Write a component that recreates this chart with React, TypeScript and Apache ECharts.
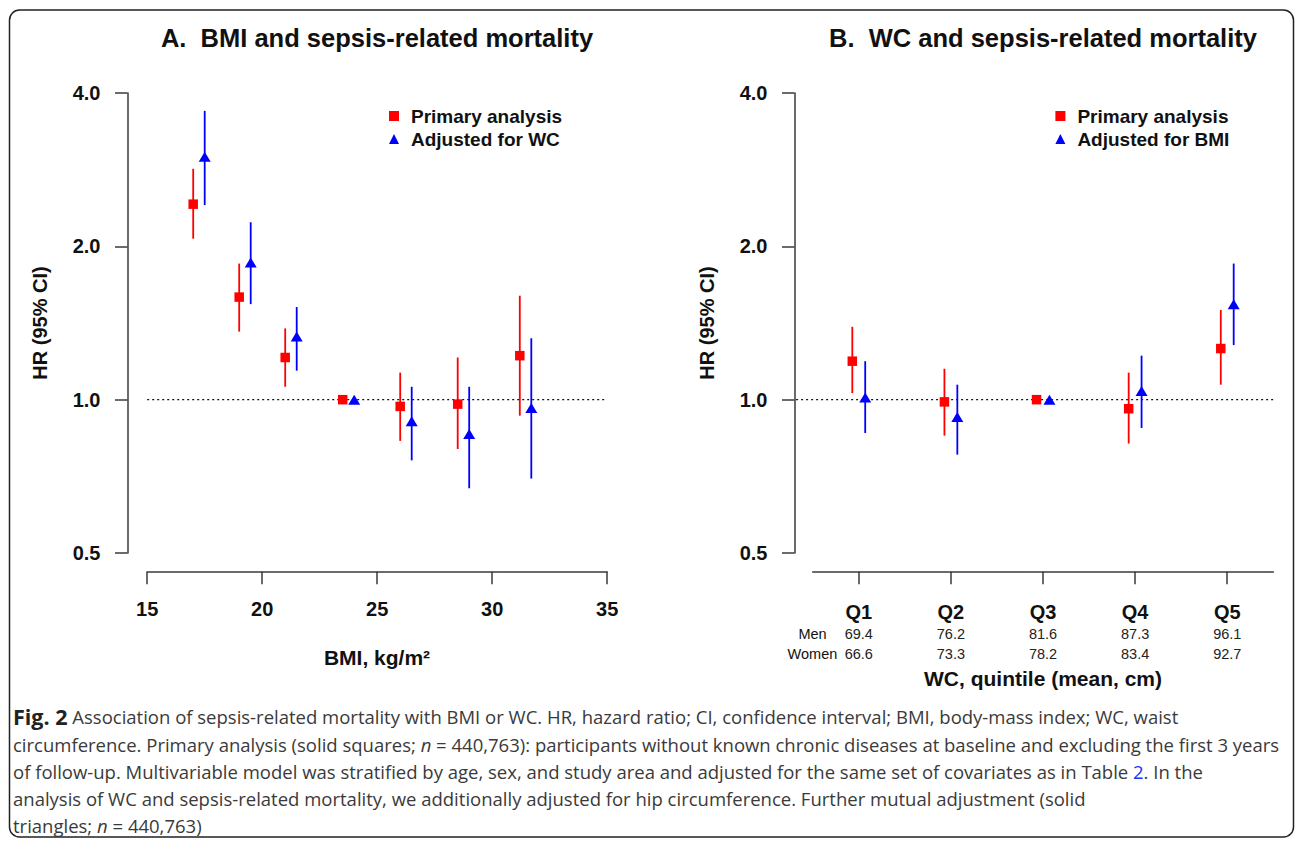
import React, { useEffect, useRef } from 'react';
import * as echarts from 'echarts';

// ---------- Data ----------
const bmiPrimaryX = [17, 19, 21, 23.5, 26, 28.5, 31.2];
const bmiPrimaryHR = [2.42, 1.59, 1.21, 1.0, 0.97, 0.98, 1.22];
const bmiPrimaryLo = [2.07, 1.36, 1.06, null, 0.83, 0.8, 0.93];
const bmiPrimaryHi = [2.84, 1.85, 1.38, null, 1.13, 1.21, 1.6];

const bmiAdjX = [17.5, 19.5, 21.5, 24, 26.5, 29, 31.7];
const bmiAdjHR = [3.0, 1.86, 1.33, 1.0, 0.907, 0.856, 0.963];
const bmiAdjLo = [2.41, 1.54, 1.14, null, 0.76, 0.67, 0.7];
const bmiAdjHi = [3.69, 2.23, 1.52, null, 1.06, 1.06, 1.32];

const quintiles = ['Q1', 'Q2', 'Q3', 'Q4', 'Q5'];
const quintilePos = [1, 2, 3, 4, 5];
const menMeans = ['69.4', '76.2', '81.6', '87.3', '96.1'];
const womenMeans = ['66.6', '73.3', '78.2', '83.4', '92.7'];

const wcPrimaryX = [0.93, 1.93, 2.93, 3.93, 4.93];
const wcPrimaryHR = [1.19, 0.99, 1.0, 0.96, 1.26];
const wcPrimaryLo = [1.03, 0.85, null, 0.82, 1.07];
const wcPrimaryHi = [1.39, 1.15, null, 1.13, 1.5];

const wcAdjX = [1.07, 2.07, 3.07, 4.07, 5.07];
const wcAdjHR = [1.01, 0.925, 1.0, 1.04, 1.54];
const wcAdjLo = [0.86, 0.78, null, 0.88, 1.28];
const wcAdjHi = [1.19, 1.07, null, 1.22, 1.85];

const bmiRange = [15, 35];
const wcRange = [0.5, 5.5];
const hrRange = [0.5, 4];
const refHR = 1;
const bmiRefLine = [15, 35];
const wcRefLine = [0.32, 5.5];

// ---------- Styles ----------
const F = '"Liberation Sans", Arial, Helvetica, sans-serif';
const CF = '"Open Sans", "Noto Sans", sans-serif';
const RED = '#ff0000';
const BLUE = '#0000ff';
const AXIS = '#3a3a3a';
const CAP = 18.5;

function ciData(xs: number[], lo: (number | null)[], hi: (number | null)[]) {
  const out: number[][] = [];
  xs.forEach((x, i) => {
    if (lo[i] != null && hi[i] != null) out.push([x, lo[i] as number, hi[i] as number]);
  });
  return out;
}

function ciSeries(name: string, idx: number, xs: number[], lo: any[], hi: any[], color: string) {
  return {
    type: 'custom',
    name,
    xAxisIndex: idx,
    yAxisIndex: idx,
    silent: true,
    z: 2,
    data: ciData(xs, lo, hi),
    renderItem: (params: any, api: any) => {
      const p1 = api.coord([api.value(0), api.value(1)]);
      const p2 = api.coord([api.value(0), api.value(2)]);
      return {
        type: 'line',
        shape: { x1: p1[0], y1: p1[1], x2: p2[0], y2: p2[1] },
        style: { stroke: color, lineWidth: 1.8 },
      };
    },
  };
}

function refLineSeries(name: string, idx: number, range: number[]) {
  return {
    type: 'custom',
    name,
    xAxisIndex: idx,
    yAxisIndex: idx,
    silent: true,
    clip: false,
    z: 1,
    data: [[range[0], range[1], refHR]],
    renderItem: (params: any, api: any) => {
      const a = api.coord([api.value(0), api.value(2)]);
      const b = api.coord([api.value(1), api.value(2)]);
      return {
        type: 'line',
        shape: { x1: a[0], y1: a[1], x2: b[0], y2: b[1] },
        style: { stroke: '#111', lineWidth: 1.3, lineDash: [2, 3] },
      };
    },
  };
}

function pointSeries(name: string, idx: number, xs: number[], hr: number[], color: string, symbol: string, size: any) {
  return {
    type: 'scatter',
    name,
    xAxisIndex: idx,
    yAxisIndex: idx,
    symbol,
    symbolSize: size,
    z: 3,
    silent: true,
    itemStyle: { color, opacity: 1 },
    data: xs.map((x, i) => [x, hr[i]]),
  };
}

const yAxisBase = (idx: number, offset: number) => ({
  gridIndex: idx,
  type: 'log',
  logBase: 2,
  min: hrRange[0],
  max: hrRange[1],
  offset,
  axisLine: { show: true, lineStyle: { color: AXIS, width: 1.5 } },
  axisTick: { show: true, length: 12.5, lineStyle: { color: AXIS, width: 1.5 } },
  axisLabel: {
    margin: 27,
    fontSize: 20,
    fontWeight: 'bold',
    fontFamily: F,
    color: '#111',
    formatter: (v: number) => v.toFixed(1),
  },
  splitLine: { show: false },
});

const legendBase = (left: number, items: any[]) => ({
  orient: 'vertical',
  left,
  top: 106,
  padding: 0,
  itemWidth: 10,
  itemHeight: 10,
  itemGap: 3,
  selectedMode: false,
  textStyle: {
    fontSize: 19,
    fontWeight: 'bold',
    fontFamily: F,
    color: '#111',
    lineHeight: 20,
    padding: [0, 0, 0, 7],
  },
  data: items,
});

function captionLine(y: number, text: string) {
  return {
    type: 'text',
    x: 13,
    y,
    silent: true,
    style: {
      text,
      fontSize: CAP,
      fontFamily: CF,
      fill: '#3a3a3a',
      verticalAlign: 'middle',
      rich: {
        b: { fontSize: 21.5, fontFamily: CF, fontWeight: 'bold', fill: '#222' },
        i: { fontSize: CAP, fontFamily: CF, fontStyle: 'italic', fill: '#3a3a3a' },
        l: { fontSize: CAP, fontFamily: CF, fill: '#2233ff' },
      },
    },
  };
}

function txt(x: number, y: number, text: string, size: number, weight: string, align: string, extra: any = {}) {
  return {
    type: 'text',
    x,
    y,
    silent: true,
    ...extra,
    style: {
      text,
      fontSize: size,
      fontWeight: weight,
      fontFamily: F,
      fill: '#111',
      align,
      verticalAlign: 'middle',
    },
  };
}

export default function App() {
  const ref = useRef<HTMLDivElement>(null);
  useEffect(() => {
    if (!ref.current) return;
    const chart = echarts.init(ref.current, undefined, { renderer: 'svg' });
    const option: any = {
      animation: false,
      backgroundColor: '#ffffff',
      grid: [
        { left: 147.2, top: 93, width: 460, height: 460 },
        { left: 812.7, top: 93, width: 460.6, height: 460 },
      ],
      xAxis: [
        {
          gridIndex: 0,
          type: 'value',
          min: bmiRange[0],
          max: bmiRange[1],
          interval: 5,
          offset: 18.7,
          axisLine: { show: true, lineStyle: { color: AXIS, width: 1.5 } },
          axisTick: { show: true, length: 12.5, lineStyle: { color: AXIS, width: 1.5 } },
          axisLabel: { margin: 27, fontSize: 20, fontWeight: 'bold', fontFamily: F, color: '#111' },
          splitLine: { show: false },
        },
        {
          gridIndex: 1,
          type: 'value',
          min: wcRange[0],
          max: wcRange[1],
          offset: 18.7,
          axisLine: { show: true, lineStyle: { color: AXIS, width: 1.5 } },
          axisTick: { show: true, length: 12.5, customValues: quintilePos, lineStyle: { color: AXIS, width: 1.5 } },
          axisLabel: {
            margin: 28,
            customValues: quintilePos,
            formatter: (v: number) => {
              const i = Math.round(v) - 1;
              return `{q|${quintiles[i]}}\n{n|${menMeans[i]}}\n{n|${womenMeans[i]}}`;
            },
            rich: {
              q: { fontSize: 20, fontWeight: 'bold', fontFamily: F, color: '#111', lineHeight: 24, align: 'center' },
              n: { fontSize: 14.5, fontFamily: F, color: '#222', lineHeight: 20, align: 'center' },
            },
          },
          splitLine: { show: false },
        },
      ],
      yAxis: [yAxisBase(0, 19.7), yAxisBase(1, 18.2)],
      legend: [
        legendBase(389, [
          { name: 'Primary analysis', icon: 'rect' },
          { name: 'Adjusted for WC', icon: 'triangle' },
        ]),
        legendBase(1055.4, [
          { name: 'Primary analysis', icon: 'rect' },
          { name: 'Adjusted for BMI', icon: 'triangle' },
        ]),
      ],
      series: [
        refLineSeries('refA', 0, bmiRefLine),
        ciSeries('ciA1', 0, bmiPrimaryX, bmiPrimaryLo, bmiPrimaryHi, RED),
        ciSeries('ciA2', 0, bmiAdjX, bmiAdjLo, bmiAdjHi, BLUE),
        pointSeries('Primary analysis', 0, bmiPrimaryX, bmiPrimaryHR, RED, 'rect', 9.5),
        pointSeries('Adjusted for WC', 0, bmiAdjX, bmiAdjHR, BLUE, 'triangle', [12, 10]),
        refLineSeries('refB', 1, wcRefLine),
        ciSeries('ciB1', 1, wcPrimaryX, wcPrimaryLo, wcPrimaryHi, RED),
        ciSeries('ciB2', 1, wcAdjX, wcAdjLo, wcAdjHi, BLUE),
        pointSeries('Primary analysis', 1, wcPrimaryX, wcPrimaryHR, RED, 'rect', 9.5),
        pointSeries('Adjusted for BMI', 1, wcAdjX, wcAdjHR, BLUE, 'triangle', [12, 10]),
      ],
      graphic: [
        {
          type: 'rect',
          silent: true,
          z: -10,
          shape: { x: 9.5, y: 10, width: 1284, height: 827, r: 10 },
          style: { fill: 'none', stroke: '#222', lineWidth: 1.5 },
        },
        txt(377, 38, 'A.  BMI and sepsis-related mortality', 25.5, 'bold', 'center'),
        txt(1043, 38, 'B.  WC and sepsis-related mortality', 25.5, 'bold', 'center'),
        txt(40, 323, 'HR (95% CI)', 20, 'bold', 'center', { rotation: Math.PI / 2 }),
        txt(707, 323, 'HR (95% CI)', 20, 'bold', 'center', { rotation: Math.PI / 2 }),
        txt(377, 657, 'BMI, kg/m²', 21, 'bold', 'center'),
        txt(1043, 678, 'WC, quintile (mean, cm)', 21, 'bold', 'center'),
        txt(826.7, 633.5, 'Men', 14.5, 'normal', 'right'),
        txt(837.3, 653.5, 'Women', 14.5, 'normal', 'right'),
        captionLine(716, '{b|Fig. 2} Association of sepsis-related mortality with BMI or WC. HR, hazard ratio; CI, confidence interval; BMI, body-mass index; WC, waist'),
        captionLine(744, 'circumference. Primary analysis (solid squares; {i|n} = 440,763): participants without known chronic diseases at baseline and excluding the first 3 years'),
        captionLine(771, 'of follow-up. Multivariable model was stratified by age, sex, and study area and adjusted for the same set of covariates as in Table {l|2}. In the'),
        captionLine(798, 'analysis of WC and sepsis-related mortality, we additionally adjusted for hip circumference. Further mutual adjustment (solid'),
        captionLine(825, 'triangles; {i|n} = 440,763)'),
      ],
    };
    chart.setOption(option);
    return () => chart.dispose();
  }, []);
  return (
    <div
      ref={ref}
      style={{ position: 'absolute', left: 0, top: 0, width: 1295, height: 841, background: '#fff' }}
    />
  );
}
